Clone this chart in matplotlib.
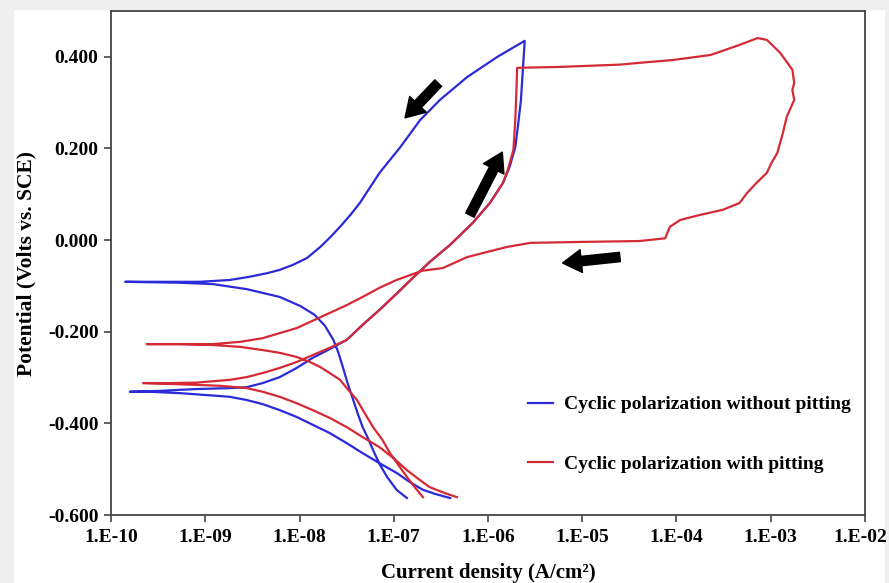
import matplotlib
matplotlib.use("Agg")
import matplotlib.pyplot as plt
from matplotlib.patches import Rectangle
from matplotlib.transforms import ScaledTranslation
import numpy as np

# log10 of current density (A/cm2) and potential (V vs SCE)
# one line per branch: cathodic (low), anodic, reverse, cathodic (high)
blue_logi = [-6.40, -6.56, -6.69, -6.83, -6.97, -7.15, -7.33, -7.50, -7.68, -7.86, -8.03, -8.21, -8.39, -8.56, -8.74, -9.00, -9.27, -9.59, -9.80,
             -9.48, -9.09, -8.74, -8.56, -8.39, -8.21, -8.03, -7.86, -7.68, -7.50, -7.33, -7.15, -6.97, -6.80, -6.62, -6.40, -6.16, -5.98, -5.84, -5.77, -5.71, -5.68, -5.65, -5.63, -5.61,
             -5.90, -6.22, -6.51, -6.72, -6.93, -7.15, -7.36, -7.46, -7.57, -7.68, -7.78, -7.92, -8.07, -8.21, -8.34, -8.53, -8.74, -9.06, -9.48, -9.85,
             -9.27, -8.92, -8.56, -8.21, -7.99, -7.84, -7.73, -7.64, -7.59, -7.54, -7.49, -7.43, -7.38, -7.33, -7.27, -7.22, -7.15, -7.07, -6.97, -6.86]
blue_v = [-0.563, -0.554, -0.545, -0.528, -0.508, -0.487, -0.465, -0.443, -0.421, -0.403, -0.386, -0.371, -0.358, -0.349, -0.342, -0.338, -0.334, -0.331, -0.331,
          -0.329, -0.325, -0.323, -0.321, -0.312, -0.299, -0.279, -0.257, -0.238, -0.218, -0.185, -0.152, -0.117, -0.083, -0.048, -0.010, 0.038, 0.081, 0.125, 0.160, 0.203, 0.252, 0.306, 0.372, 0.435,
          0.400, 0.356, 0.306, 0.262, 0.203, 0.147, 0.081, 0.055, 0.029, 0.005, -0.015, -0.039, -0.054, -0.065, -0.072, -0.080, -0.087, -0.091, -0.091, -0.091,
          -0.093, -0.096, -0.107, -0.124, -0.144, -0.163, -0.187, -0.218, -0.244, -0.277, -0.312, -0.349, -0.380, -0.408, -0.434, -0.458, -0.489, -0.517, -0.545, -0.563]

# cathodic (low), anodic, pitting loop + reverse, cathodic (high)
red_logi = [-6.33, -6.46, -6.62, -6.74, -6.86, -6.99, -7.15, -7.33, -7.50, -7.68, -7.86, -8.03, -8.21, -8.39, -8.56, -8.84, -9.09, -9.37, -9.66,
            -9.37, -9.09, -8.74, -8.56, -8.39, -8.21, -8.03, -7.86, -7.68, -7.50, -7.33, -7.15, -6.97, -6.80, -6.62, -6.40, -6.16, -5.98, -5.84, -5.79, -5.76, -5.73, -5.72, -5.71, -5.70, -5.69,
            -5.24, -4.60, -4.39, -4.04, -3.64, -3.54, -3.33, -3.14, -3.04, -2.90, -2.77, -2.75, -2.77, -2.75, -2.83, -2.87, -2.93, -2.99, -3.04, -3.15, -3.25, -3.33, -3.51, -3.75, -3.96, -4.07, -4.12, -4.39,
            -5.02, -5.55, -5.80, -6.05, -6.22, -6.48, -6.70, -6.97, -7.15, -7.33, -7.50, -7.68, -7.86, -8.03, -8.21, -8.39, -8.63, -8.92, -9.27, -9.62,
            -9.27, -8.92, -8.63, -8.39, -8.21, -8.03, -7.89, -7.78, -7.68, -7.57, -7.49, -7.39, -7.31, -7.22, -7.12, -7.04, -6.95, -6.86, -6.77, -6.69]
red_v = [-0.561, -0.552, -0.539, -0.521, -0.502, -0.478, -0.452, -0.430, -0.408, -0.388, -0.371, -0.356, -0.342, -0.331, -0.323, -0.318, -0.316, -0.314, -0.312,
         -0.312, -0.311, -0.305, -0.299, -0.290, -0.279, -0.266, -0.251, -0.235, -0.218, -0.185, -0.152, -0.117, -0.083, -0.048, -0.010, 0.038, 0.081, 0.125, 0.153, 0.175, 0.197, 0.230, 0.262, 0.317, 0.376,
         0.378, 0.383, 0.387, 0.393, 0.404, 0.411, 0.426, 0.441, 0.437, 0.409, 0.372, 0.343, 0.328, 0.306, 0.269, 0.234, 0.190, 0.169, 0.147, 0.125, 0.103, 0.081, 0.066, 0.055, 0.044, 0.029, 0.004, -0.002,
         -0.004, -0.006, -0.015, -0.028, -0.037, -0.061, -0.067, -0.087, -0.104, -0.124, -0.142, -0.159, -0.176, -0.192, -0.203, -0.214, -0.222, -0.227, -0.227, -0.227,
         -0.227, -0.229, -0.233, -0.240, -0.246, -0.255, -0.266, -0.277, -0.290, -0.305, -0.325, -0.349, -0.377, -0.408, -0.436, -0.465, -0.491, -0.517, -0.541, -0.561]

x_ticks = [1e-10, 1e-9, 1e-8, 1e-7, 1e-6, 1e-5, 1e-4, 1e-3, 1e-2]
x_ticklabels = ['1.E-10', '1.E-09', '1.E-08', '1.E-07', '1.E-06',
                '1.E-05', '1.E-04', '1.E-03', '1.E-02']
y_ticks = [-0.6, -0.4, -0.2, 0.0, 0.2, 0.4]

plt.rcParams['font.family'] = ['Liberation Serif', 'DejaVu Serif']
plt.rcParams['font.weight'] = 'bold'

fig = plt.figure(figsize=(8.89, 5.83), dpi=100, facecolor='#efefef')
fig.patches.append(Rectangle((0.0157, 0.0), 0.980, 0.983, transform=fig.transFigure,
                             facecolor='white', edgecolor='none', zorder=-10))
ax = fig.add_axes([0.1249, 0.1166, 0.848, 0.8645])

blue = '#2a2ad8'
red = '#d42a35'
ax.plot(10 ** np.array(blue_logi), blue_v, color=blue, lw=1.6,
        label='Cyclic polarization without pitting')
ax.plot(10 ** np.array(red_logi), red_v, color=red, lw=1.6,
        label='Cyclic polarization with pitting')

ax.set_xscale('log')
ax.set_xlim(1e-10, 1e-2)
ax.set_ylim(-0.6, 0.5)
ax.set_xticks(x_ticks)
ax.set_xticklabels(x_ticklabels)
ax.minorticks_off()
ax.set_yticks(y_ticks)
ax.set_yticklabels([f'{v:.3f}' for v in y_ticks])
ax.tick_params(axis='both', direction='out', length=5, width=1.2, color='#444444',
               labelsize=14)
ax.tick_params(axis='x', pad=5)
ax.tick_params(axis='y', pad=4)
for s in ax.spines.values():
    s.set_color('#444444')
    s.set_linewidth(1.3)

# last x label sits at the figure edge; nudge it in a little so it is not clipped
last = ax.get_xticklabels()[-1]
last.set_transform(last.get_transform() + ScaledTranslation(-5 / 100, 0, fig.dpi_scale_trans))

ax.set_xlabel('Current density (A/cm²)', fontsize=15, fontweight='bold', labelpad=12)
ax.set_ylabel('Potential (Volts vs. SCE)', fontsize=15.5, fontweight='bold', labelpad=8)

# direction arrows
arrow = dict(arrowstyle='simple,head_width=1.1,head_length=0.9,tail_width=0.45',
             color='black', shrinkA=0, shrinkB=0)
ax.annotate('', xy=(0.390, 0.788), xytext=(0.434, 0.857), xycoords='axes fraction',
            arrowprops=dict(arrow, mutation_scale=15))
ax.annotate('', xy=(0.519, 0.720), xytext=(0.476, 0.595), xycoords='axes fraction',
            arrowprops=dict(arrow, mutation_scale=15))
ax.annotate('', xy=(0.599, 0.500), xytext=(0.675, 0.512), xycoords='axes fraction',
            arrowprops=dict(arrow, mutation_scale=15))

ax.legend(loc='center left', bbox_to_anchor=(0.530, 0.160), frameon=False,
          fontsize=14, labelspacing=2.15, handlelength=1.3, handletextpad=0.55)

fig.savefig('out.png', dpi=100, facecolor=fig.get_facecolor())
